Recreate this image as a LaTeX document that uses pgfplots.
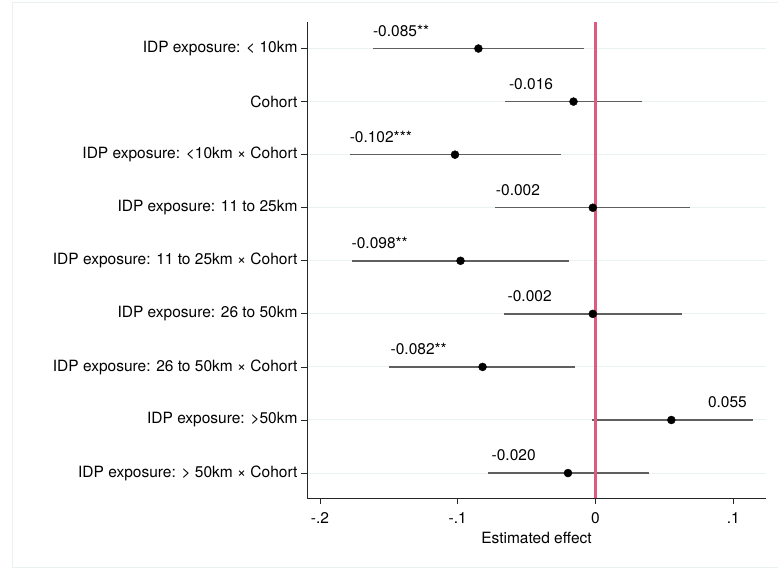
\documentclass[border=0pt]{standalone}
\usepackage{fontspec}
\setmainfont{TeX Gyre Heros}
\usepackage{pgfplots}
\usepackage{pgfplotstable}
\pgfplotsset{compat=1.18}
\definecolor{gridcol}{RGB}{234,242,243}
\definecolor{framecol}{RGB}{232,240,242}
\definecolor{pinkcol}{RGB}{222,90,128}
\definecolor{cicol}{RGB}{95,95,95}
\newcommand{\fs}{\fontsize{15.5}{18}\selectfont}
\pgfplotstableread{
y est lo hi lx lab
9 -0.085 -0.1618 -0.0087 -0.1616 -0.085**
8 -0.016 -0.0658 0.0334 -0.0629 -0.016
7 -0.102 -0.1783 -0.0252 -0.1785 -0.102***
6 -0.002 -0.0731 0.0689 -0.0724 -0.002
5 -0.098 -0.1766 -0.0196 -0.1771 -0.098**
4 -0.002 -0.0663 0.0624 -0.0639 -0.002
3 -0.082 -0.1498 -0.0148 -0.1488 -0.082**
2 0.055 -0.0025 0.1144 0.0815 0.055
1 -0.020 -0.0777 0.0385 -0.0755 -0.020
}\coef
\begin{document}
\begin{tikzpicture}
\useasboundingbox (0pt,0pt) rectangle (778pt,570pt);
\draw[framecol, line width=1pt] (12pt,3pt) -- (12pt,567pt) -- (778pt,567pt);
\draw[framecol, line width=1pt] (12pt,3pt) -- (778pt,3pt);
\begin{axis}[
  at={(307pt,72pt)}, anchor=south west,
  scale only axis, width=459pt, height=476pt,
  xmin=-0.2094, xmax=0.1237, ymin=0.53, ymax=9.5,
  axis lines*=left,
  axis line style={-, draw=black!85, line width=0.8pt},
  tick align=outside, major tick length=6pt,
  tick style={draw=black!85, line width=0.8pt},
  xtick={-0.2,-0.1,0,0.1}, xticklabels={-.2,-.1,0,.1},
  ytick={1,...,9},
  yticklabels={{IDP exposure: > 50km × Cohort},{IDP exposure: >50km},{IDP exposure: 26 to 50km × Cohort},{IDP exposure: 26 to 50km},{IDP exposure: 11 to 25km × Cohort},{IDP exposure: 11 to 25km},{IDP exposure: <10km × Cohort},{Cohort},{IDP exposure: < 10km}},
  ymajorgrids, major grid style={draw=gridcol, line width=1pt},
  tick label style={font=\fs},
  xticklabel style={yshift=-5pt},
  /pgf/number format/assume math mode=true,
  xlabel={Estimated effect}, xlabel style={font=\fs, yshift=-2pt},
  clip=false,
]
\addplot[draw=none, mark=none, error bars/.cd, x dir=both, x explicit, error mark=none,
  error bar style={draw=cicol, line width=1.5pt}]
  table[x=est, y=y, x error plus expr=\thisrow{hi}-\thisrow{est}, x error minus expr=\thisrow{est}-\thisrow{lo}] \coef;
\addplot[draw=pinkcol, line width=2.2pt, mark=none, solid] coordinates {(0,0.53) (0,9.5)};
\addplot[only marks, mark=*, mark size=4pt, black] table[x=est, y=y] \coef;
\addplot[draw=none, mark=none, nodes near coords, point meta=explicit symbolic,
  nodes near coords style={anchor=west, font=\fs, inner sep=0pt, text=black}]
  table[x=lx, y expr=\thisrow{y}+0.33, meta=lab] \coef;
\end{axis}
\end{tikzpicture}
\end{document}
